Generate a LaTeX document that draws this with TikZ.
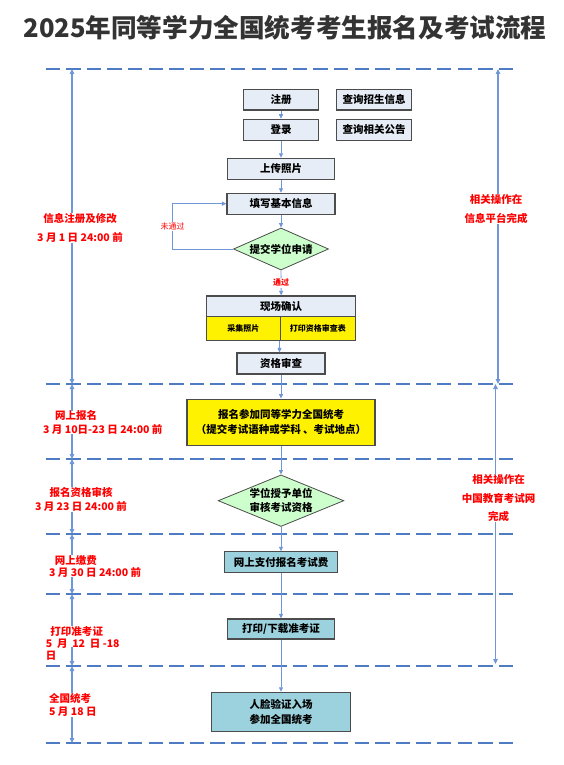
\documentclass[tikz,border=0pt]{standalone}
\usepackage{fontspec}
\setmainfont{Noto Sans CJK SC}
\usetikzlibrary{shapes.geometric,arrows.meta}
\definecolor{boxblue}{HTML}{E6EDF7}
\definecolor{sepblue}{HTML}{4F7BC4}
\definecolor{lineblue}{HTML}{6F96D6}
\definecolor{diagreen}{HTML}{CCFFCC}
\definecolor{examcyan}{HTML}{9CD2DE}
\definecolor{titlegray}{HTML}{333333}

\begin{document}
\begin{tikzpicture}[x=1pt,y=-1pt,
        box/.style={draw=black!70,line width=1.1pt,fill=boxblue,inner sep=0pt,
            font=\bfseries\fontsize{10.5}{15}\selectfont,align=center},
        yelbox/.style={box,fill=yellow},
        cyanbox/.style={box,fill=examcyan},
        decision/.style={diamond,draw=black!70,line width=0.8pt,fill=diagreen,inner sep=0pt,
            aspect=2.3,font=\bfseries\fontsize{10.5}{14}\selectfont,align=center},
        flow/.style={-{Triangle[length=4.5pt,width=4pt]},lineblue,line width=0.8pt},
        side/.style={-{Triangle[length=5pt,width=4.5pt]},lineblue,line width=1.2pt},
        sep/.style={sepblue,line width=2.5pt,dash pattern=on 14.3pt off 6.3pt},
        note/.style={text=red,inner sep=0pt,font=\bfseries\fontsize{10.5}{13.5}\selectfont},
        tag/.style={text=red,fill=white,inner sep=1pt,font=\fontsize{8}{9}\selectfont}
    ]
        \useasboundingbox (0,0) rectangle (563,765);

        % Draw the dashed separators
        \foreach \y [count=\i from 0] in {69,384,459,534,594,666,743}
        {
            \draw[sep] (45.6,\y) -- (516,\y);
            \coordinate (L\i) at (72,\y);
        }
        \coordinate (RA) at (498,69);
        \coordinate (RB) at (498,384);
        \coordinate (RC) at (495.5,384);
        \coordinate (RD) at (495.5,664);
        \coordinate (T5low) at (72,647);

        % Title
        \node[font=\bfseries\fontsize{25.6}{30}\selectfont,text=titlegray] (Title) at (285,28)
            {2025年同等学力全国统考考生报名及考试流程};

        % Define the nodes
        \node[box,minimum width=74.7pt,minimum height=20.7pt] (Reg) at (281,99.7) {注册};
        \node[box,minimum width=75pt,minimum height=20.7pt] (QInfo) at (374,99.7) {查询招生信息};
        \node[box,minimum width=74.7pt,minimum height=21pt] (Login) at (281,129.8) {登录};
        \node[box,minimum width=75pt,minimum height=21pt] (QNote) at (374,129.8) {查询相关公告};
        \node[box,minimum width=107.7pt,minimum height=21pt] (Photo) at (281,168.8) {上传照片};
        \node[box,minimum width=108pt,minimum height=20.7pt] (Basic) at (281,203.7) {填写基本信息};
        \node[decision,minimum width=95pt,minimum height=42pt] (Apply) at (281,249) {提交学位申请};
        \node[box,minimum width=149pt,minimum height=20.7pt] (Confirm) at (281.2,306.3) {现场确认};
        \node[yelbox,minimum width=73.3pt,minimum height=24pt,font=\bfseries\fontsize{8}{9}\selectfont]
            (Pic) at (243.4,328.7) {采集照片};
        \node[yelbox,minimum width=75.7pt,minimum height=24pt,font=\bfseries\fontsize{8}{9}\selectfont]
            (Print) at (317.9,328.7) {打印资格审查表};
        \node[box,minimum width=88pt,minimum height=21pt] (Check) at (281,363.5) {资格审查};
        \node[yelbox,minimum width=188pt,minimum height=46.7pt] (Enrol) at (281,422.4)
            {报名参加同等学力全国统考\\（提交考试语种或学科 、考试地点）};
        \node[decision,minimum width=125.7pt,minimum height=50pt] (Verify) at (281,500.7)
            {学位授予单位\\审核考试资格};
        \node[cyanbox,minimum width=113pt,minimum height=20.3pt] (Pay) at (281,562) {网上支付报名考试费};
        \node[cyanbox,minimum width=107.3pt,minimum height=20pt] (Ticket) at (281,629) {打印/下载准考证};
        \node[cyanbox,minimum width=139.8pt,minimum height=39pt] (Exam) at (281,711.8)
            {人脸验证入场\\参加全国统考};

        % Draw the flow
        \draw[flow] (Reg) -- (Login);
        \draw[flow] (Login) -- (Photo);
        \draw[flow] (Photo) -- (Basic);
        \draw[flow] (Basic) -- (Apply);
        \draw[flow] (Apply.west) -- ++(-60.4,0) |- node[tag,pos=0.25] {未通过} (Basic.west);
        \draw[flow] (Apply) -- node[tag,font=\bfseries\fontsize{8}{9}\selectfont] {通过} (Confirm);
        \draw[flow] (Print.south west) -- (Print.south west |- Check.north);
        \draw[flow] (Check) -- (Enrol);
        \draw[flow] (Enrol) -- (Verify);
        \draw[flow] (Verify) -- (Pay);
        \draw[flow] (Pay) -- (Ticket);
        \draw[flow] (Ticket) -- (Exam);

        % Time notes on the left
        \node[note,align=center] (T1) at (80,227.8) {信息注册及修改\\[5.5pt]3 月 1 日 24:00 前};
        \node[note,align=left,anchor=west] (T2) at (43,422.5) {\hspace*{12pt}网上报名\\3 月 10日-23 日 24:00 前};
        \node[note,align=center] (T3) at (81,499.5) {报名资格审核\\3 月 23 日 24:00 前};
        \node[note,align=left,anchor=west,font=\bfseries\fontsize{10.5}{12}\selectfont] (T4) at (49,566)
            {\hspace*{5.6pt}网上缴费\\3 月 30 日 24:00 前};
        \node[note,align=left,anchor=west,font=\bfseries\fontsize{10.5}{12}\selectfont] (T5) at (45.6,643)
            {\hspace*{4.7pt}打印准考证\\5\ \ 月\ \ 12\ \ 日\ -18\\日};
        \node[note,align=left,anchor=west] (T6) at (49,705) {全国统考\\5 月 18 日};

        % Platform notes on the right
        \node[note,align=center,font=\bfseries\fontsize{10.5}{19}\selectfont] (R1) at (496,208.8)
            {相关操作在\\信息平台完成};
        \node[note,align=center,font=\bfseries\fontsize{10.5}{18.3}\selectfont] (R2) at (498.5,498.3)
            {相关操作在\\中国教育考试网\\完成};

        % Draw the period arrows
        \foreach \t/\a/\b in {T1/L0/L1,T2/L1/L2,T3/L2/L3,T4/L3/L4,T6/L5/L6}
        {
            \draw[side] (\t.north -| \a) -- (\a);
            \draw[side] (\t.south -| \b) -- (\b);
        }
        \draw[side] (T5.north -| L4) -- (L4);
        \draw[side] (T5low) -- (L5);
        \draw[side] (R1.north -| RA) -- (RA);
        \draw[side] (R1.south -| RB) -- (RB);
        \draw[side] (R2.north -| RC) -- (RC);
        \draw[side] (R2.south -| RD) -- (RD);
    \end{tikzpicture}
\end{document}
